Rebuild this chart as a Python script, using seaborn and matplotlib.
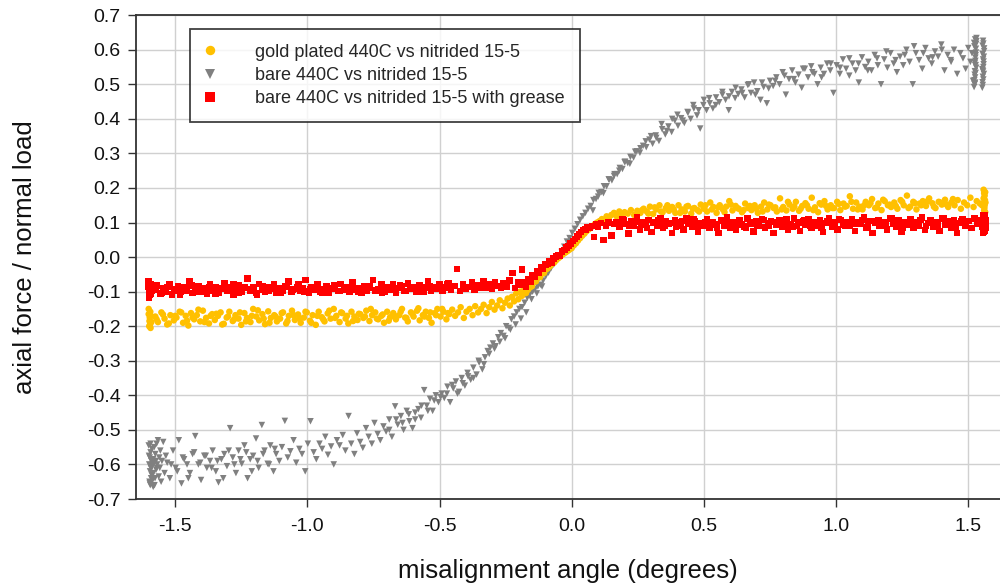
import numpy as np
import pandas as pd
import matplotlib
matplotlib.use("Agg")
import matplotlib.pyplot as plt
import seaborn as sns

# ---------------- data ----------------
LABEL_GOLD = "gold plated 440C vs nitrided 15-5"
LABEL_BARE = "bare 440C vs nitrided 15-5"
LABEL_GREASE = "bare 440C vs nitrided 15-5 with grease"

gold_x = [
    -1.600, -1.600, -1.598, -1.597, -1.596, -1.595, -1.594, -1.593, -1.592, -1.590,
    -1.575, -1.565, -1.552, -1.540, -1.530, -1.518, -1.505, -1.495, -1.483, -1.470,
    -1.460, -1.450, -1.440, -1.428, -1.418, -1.405, -1.395, -1.383, -1.372, -1.360,
    -1.350, -1.338, -1.328, -1.316, -1.305, -1.295, -1.282, -1.272, -1.260, -1.250,
    -1.238, -1.228, -1.215, -1.205, -1.193, -1.182, -1.170, -1.160, -1.148, -1.138,
    -1.125, -1.115, -1.103, -1.092, -1.080, -1.070, -1.058, -1.047, -1.035, -1.025,
    -1.013, -1.002, -0.990, -0.980, -0.968, -0.957, -0.945, -0.935, -0.923, -0.912,
    -0.900, -0.890, -0.878, -0.868, -0.855, -0.845, -0.833, -0.822, -0.810, -0.800,
    -0.788, -0.777, -0.765, -0.755, -0.743, -0.732, -0.720, -0.710, -0.698, -0.687,
    -0.675, -0.665, -0.652, -0.642, -0.630, -0.620, -0.608, -0.598, -0.585, -0.575,
    -0.563, -0.552, -0.540, -0.530, -0.518, -0.508, -0.496, -0.485, -0.474, -0.463,
    -0.452, -0.441, -0.430, -0.420, -0.408, -0.398, -0.386, -0.375, -0.365, -0.354,
    -0.343, -0.333, -0.322, -0.312, -0.302, -0.292, -0.282, -0.272, -0.262, -0.252,
    -0.242, -0.234, -0.226, -0.218, -0.210, -0.202, -0.195, -0.188, -0.180, -0.173,
    -0.166, -0.158, -0.150, -0.142, -0.135, -0.127, -0.120, -0.112, -0.105, -0.097,
    -0.090, -0.082, -0.075, -0.067, -0.060, -0.052, -0.045, -0.037, -0.030, -0.022,
    -0.015, -0.008, 0.000, 0.008, 0.016, 0.024, 0.032, 0.040, 0.048, 0.056,
    0.064, 0.072, 0.080, 0.088, 0.096, 0.105, 0.114, 0.123, 0.132, 0.141,
    0.150, 0.160, 0.170, 0.180, 0.190, 0.200, 0.212, 0.224, 0.236, 0.248,
    0.260, 0.272, 0.284, 0.296, 0.308, 0.320, 0.332, 0.344, 0.356, 0.368,
    0.380, 0.392, 0.404, 0.416, 0.428, 0.440, 0.452, 0.464, 0.476, 0.488,
    0.500, 0.512, 0.524, 0.536, 0.548, 0.560, 0.572, 0.584, 0.596, 0.608,
    0.620, 0.632, 0.644, 0.656, 0.668, 0.680, 0.692, 0.704, 0.716, 0.728,
    0.740, 0.752, 0.764, 0.776, 0.788, 0.800, 0.812, 0.824, 0.836, 0.848,
    0.860, 0.872, 0.884, 0.896, 0.908, 0.920, 0.932, 0.944, 0.956, 0.968,
    0.980, 0.992, 1.004, 1.016, 1.028, 1.040, 1.052, 1.064, 1.076, 1.088,
    1.100, 1.112, 1.124, 1.136, 1.148, 1.160, 1.172, 1.184, 1.196, 1.208,
    1.220, 1.232, 1.244, 1.256, 1.268, 1.280, 1.292, 1.304, 1.316, 1.328,
    1.340, 1.352, 1.364, 1.376, 1.388, 1.400, 1.412, 1.424, 1.436, 1.448,
    1.460, 1.472, 1.484, 1.496, 1.508, 1.520, 1.532, 1.544, 1.552, 1.558,
    1.558, 1.560, 1.560, 1.561, 1.562, 1.562, 1.563, 1.564, 1.564, 1.565,
    -1.570, -1.546, -1.524, -1.500, -1.477, -1.455, -1.434, -1.412, -1.389, -1.366,
    -1.344, -1.322, -1.300, -1.277, -1.255, -1.232, -1.210, -1.187, -1.165, -1.143,
    -1.120, -1.097, -1.075, -1.052, -1.030, -1.007, -0.985, -0.962, -0.940, -0.917,
    -0.895, -0.872, -0.850, -0.827, -0.805, -0.782, -0.760, -0.737, -0.715, -0.692,
    -0.670, -0.647, -0.625, -0.602, -0.580, -0.557, -0.535, -0.513, -0.490, -0.468,
    0.266, 0.290, 0.314, 0.338, 0.362, 0.386, 0.410, 0.434, 0.458, 0.482,
    0.506, 0.530, 0.554, 0.578, 0.602, 0.626, 0.650, 0.674, 0.698, 0.722,
    0.746, 0.770, 0.794, 0.818, 0.842, 0.866, 0.890, 0.914, 0.938, 0.962,
    0.986, 1.010, 1.034, 1.058, 1.082, 1.106, 1.130, 1.154, 1.178, 1.202,
    1.226, 1.250, 1.274, 1.298, 1.322, 1.346, 1.370, 1.394, 1.418, 1.442,
]
gold_y = [
    -0.150, -0.165, -0.200, -0.185, -0.175, -0.195, -0.158, -0.205, -0.170, -0.188,
    -0.172, -0.188, -0.160, -0.178, -0.195, -0.168, -0.183, -0.175, -0.158, -0.190,
    -0.170, -0.198, -0.162, -0.180, -0.168, -0.186, -0.155, -0.176, -0.192, -0.165,
    -0.182, -0.170, -0.160, -0.193, -0.175, -0.158, -0.185, -0.168, -0.178, -0.196,
    -0.162, -0.176, -0.188, -0.150, -0.172, -0.183, -0.165, -0.194, -0.157, -0.176,
    -0.168, -0.186, -0.178, -0.160, -0.192, -0.170, -0.155, -0.182, -0.166, -0.190,
    -0.175, -0.160, -0.184, -0.168, -0.196, -0.158, -0.174, -0.186, -0.163, -0.178,
    -0.150, -0.170, -0.188, -0.162, -0.178, -0.192, -0.158, -0.172, -0.182, -0.165,
    -0.176, -0.155, -0.185, -0.168, -0.160, -0.180, -0.170, -0.190, -0.158, -0.174,
    -0.162, -0.180, -0.168, -0.150, -0.175, -0.186, -0.160, -0.172, -0.155, -0.183,
    -0.168, -0.158, -0.176, -0.190, -0.162, -0.150, -0.172, -0.158, -0.180, -0.165,
    -0.152, -0.170, -0.160, -0.145, -0.176, -0.158, -0.150, -0.168, -0.142, -0.160,
    -0.150, -0.138, -0.162, -0.145, -0.130, -0.152, -0.140, -0.125, -0.148, -0.132,
    -0.120, -0.140, -0.115, -0.128, -0.105, -0.122, -0.100, -0.112, -0.095, -0.104,
    -0.095, -0.088, -0.084, -0.072, -0.070, -0.060, -0.058, -0.048, -0.046, -0.036,
    -0.032, -0.026, -0.020, -0.016, -0.010, -0.004, 0.000, 0.006, 0.010, 0.014,
    0.018, 0.022, 0.026, 0.034, 0.040, 0.048, 0.055, 0.062, 0.068, 0.075,
    0.080, 0.085, 0.090, 0.096, 0.100, 0.104, 0.110, 0.108, 0.118, 0.115,
    0.122, 0.128, 0.118, 0.132, 0.124, 0.130, 0.126, 0.136, 0.122, 0.134,
    0.128, 0.140, 0.132, 0.146, 0.125, 0.138, 0.150, 0.130, 0.142, 0.134,
    0.145, 0.128, 0.150, 0.138, 0.132, 0.148, 0.126, 0.142, 0.136, 0.152,
    0.140, 0.132, 0.158, 0.145, 0.128, 0.150, 0.138, 0.146, 0.162, 0.135,
    0.148, 0.140, 0.130, 0.155, 0.142, 0.136, 0.150, 0.128, 0.146, 0.158,
    0.138, 0.150, 0.142, 0.132, 0.170, 0.145, 0.135, 0.152, 0.140, 0.160,
    0.134, 0.148, 0.156, 0.140, 0.172, 0.144, 0.130, 0.152, 0.162, 0.138,
    0.150, 0.142, 0.160, 0.136, 0.155, 0.148, 0.176, 0.140, 0.158, 0.146,
    0.138, 0.160, 0.150, 0.168, 0.142, 0.155, 0.136, 0.162, 0.150, 0.145,
    0.158, 0.140, 0.165, 0.150, 0.178, 0.146, 0.160, 0.138, 0.155, 0.162,
    0.148, 0.170, 0.156, 0.142, 0.160, 0.152, 0.166, 0.145, 0.158, 0.150,
    0.165, 0.140, 0.158, 0.150, 0.172, 0.145, 0.162, 0.155, 0.150, 0.170,
    0.195, 0.135, 0.185, 0.142, 0.178, 0.150, 0.165, 0.130, 0.188, 0.158,
    -0.180, -0.166, -0.192, -0.170, -0.160, -0.184, -0.175, -0.152, -0.188, -0.170,
    -0.164, -0.195, -0.172, -0.180, -0.160, -0.186, -0.170, -0.154, -0.178, -0.190,
    -0.172, -0.162, -0.185, -0.168, -0.176, -0.158, -0.190, -0.170, -0.180, -0.155,
    -0.176, -0.160, -0.170, -0.185, -0.164, -0.172, -0.150, -0.178, -0.166, -0.184,
    -0.170, -0.158, -0.176, -0.165, -0.148, -0.172, -0.160, -0.168, -0.150, -0.162,
    0.136, 0.126, 0.144, 0.132, 0.150, 0.138, 0.128, 0.146, 0.140, 0.132,
    0.150, 0.138, 0.144, 0.130, 0.152, 0.142, 0.136, 0.148, 0.140, 0.132,
    0.152, 0.144, 0.138, 0.160, 0.146, 0.140, 0.150, 0.136, 0.156, 0.148,
    0.142, 0.154, 0.146, 0.160, 0.138, 0.150, 0.156, 0.144, 0.166, 0.152,
    0.148, 0.160, 0.142, 0.156, 0.150, 0.162, 0.146, 0.158, 0.152, 0.168,
]

grease_x = [
    -1.600, -1.600, -1.598, -1.597, -1.596, -1.595, -1.594, -1.593, -1.592, -1.590,
    -1.578, -1.568, -1.556, -1.545, -1.534, -1.522, -1.512, -1.500, -1.490, -1.478,
    -1.468, -1.456, -1.446, -1.434, -1.424, -1.412, -1.402, -1.390, -1.380, -1.368,
    -1.358, -1.346, -1.336, -1.324, -1.314, -1.302, -1.292, -1.280, -1.270, -1.258,
    -1.248, -1.236, -1.226, -1.214, -1.204, -1.192, -1.182, -1.170, -1.160, -1.148,
    -1.138, -1.126, -1.116, -1.104, -1.094, -1.082, -1.072, -1.060, -1.050, -1.038,
    -1.028, -1.016, -1.006, -0.994, -0.984, -0.972, -0.962, -0.950, -0.940, -0.928,
    -0.918, -0.906, -0.896, -0.884, -0.874, -0.862, -0.852, -0.840, -0.830, -0.818,
    -0.808, -0.796, -0.786, -0.774, -0.764, -0.752, -0.742, -0.730, -0.720, -0.708,
    -0.698, -0.686, -0.676, -0.664, -0.654, -0.642, -0.632, -0.620, -0.610, -0.598,
    -0.588, -0.576, -0.566, -0.554, -0.544, -0.532, -0.522, -0.510, -0.500, -0.488,
    -0.478, -0.466, -0.456, -0.444, -0.434, -0.422, -0.412, -0.400, -0.390, -0.378,
    -0.368, -0.356, -0.346, -0.334, -0.324, -0.312, -0.302, -0.290, -0.280, -0.268,
    -0.258, -0.246, -0.236, -0.224, -0.214, -0.204, -0.196, -0.188, -0.180, -0.172,
    -0.164, -0.156, -0.148, -0.140, -0.132, -0.124, -0.116, -0.108, -0.100, -0.092,
    -0.084, -0.076, -0.068, -0.060, -0.052, -0.044, -0.036, -0.028, -0.020, -0.012,
    -0.004, 0.004, 0.012, 0.020, 0.028, 0.036, 0.044, 0.052, 0.060, 0.068,
    0.076, 0.084, 0.092, 0.100, 0.110, 0.120, 0.130, 0.140, 0.150, 0.160,
    0.170, 0.181, 0.192, 0.203, 0.214, 0.225, 0.236, 0.247, 0.258, 0.269,
    0.280, 0.291, 0.302, 0.313, 0.324, 0.335, 0.346, 0.357, 0.368, 0.379,
    0.390, 0.401, 0.412, 0.423, 0.434, 0.445, 0.456, 0.467, 0.478, 0.489,
    0.500, 0.511, 0.522, 0.533, 0.544, 0.555, 0.566, 0.577, 0.588, 0.599,
    0.610, 0.621, 0.632, 0.643, 0.654, 0.665, 0.676, 0.687, 0.698, 0.709,
    0.720, 0.731, 0.742, 0.753, 0.764, 0.775, 0.786, 0.797, 0.808, 0.819,
    0.830, 0.841, 0.852, 0.863, 0.874, 0.885, 0.896, 0.907, 0.918, 0.929,
    0.940, 0.951, 0.962, 0.973, 0.984, 0.995, 1.006, 1.017, 1.028, 1.039,
    1.050, 1.061, 1.072, 1.083, 1.094, 1.105, 1.116, 1.127, 1.138, 1.149,
    1.160, 1.171, 1.182, 1.193, 1.204, 1.215, 1.226, 1.237, 1.248, 1.259,
    1.270, 1.281, 1.292, 1.303, 1.314, 1.325, 1.336, 1.347, 1.358, 1.369,
    1.380, 1.391, 1.402, 1.413, 1.424, 1.435, 1.446, 1.457, 1.468, 1.479,
    1.490, 1.501, 1.512, 1.523, 1.534, 1.545, 1.552, 1.558, 1.560, 1.562,
    1.556, 1.558, 1.560, 1.561, 1.562, 1.563, 1.564, 1.565, 1.566, 1.567,
    -1.573, -1.550, -1.528, -1.505, -1.482, -1.460, -1.438, -1.415, -1.393, -1.370,
    -1.348, -1.326, -1.303, -1.280, -1.258, -1.236, -1.213, -1.190, -1.168, -1.146,
    -1.123, -1.100, -1.078, -1.056, -1.033, -1.010, -0.988, -0.966, -0.943, -0.920,
    -0.898, -0.876, -0.853, -0.830, -0.808, -0.786, -0.763, -0.740, -0.718, -0.696,
    -0.673, -0.650, -0.628, -0.606, -0.583, -0.560, -0.538, -0.516, -0.493, -0.470,
    0.175, 0.197, 0.219, 0.241, 0.263, 0.285, 0.307, 0.329, 0.351, 0.373,
    0.395, 0.417, 0.439, 0.461, 0.483, 0.505, 0.527, 0.549, 0.571, 0.593,
    0.615, 0.637, 0.659, 0.681, 0.703, 0.725, 0.747, 0.769, 0.791, 0.813,
    0.835, 0.857, 0.879, 0.901, 0.923, 0.945, 0.967, 0.989, 1.011, 1.033,
    1.055, 1.077, 1.099, 1.121, 1.143, 1.165, 1.187, 1.209, 1.231, 1.253,
    1.275, 1.297, 1.319, 1.341, 1.363, 1.385, 1.407, 1.429, 1.451, 1.473,
]
grease_y = [
    -0.070, -0.085, -0.118, -0.100, -0.092, -0.110, -0.078, -0.105, -0.088, -0.096,
    -0.095, -0.082, -0.105, -0.090, -0.100, -0.078, -0.108, -0.092, -0.085, -0.100,
    -0.088, -0.098, -0.070, -0.104, -0.092, -0.084, -0.100, -0.090, -0.106, -0.080,
    -0.096, -0.086, -0.102, -0.092, -0.076, -0.098, -0.088, -0.108, -0.094, -0.082,
    -0.100, -0.090, -0.062, -0.096, -0.086, -0.104, -0.078, -0.094, -0.100, -0.088,
    -0.092, -0.080, -0.104, -0.090, -0.098, -0.084, -0.070, -0.100, -0.092, -0.086,
    -0.098, -0.090, -0.066, -0.102, -0.088, -0.094, -0.080, -0.100, -0.092, -0.084,
    -0.104, -0.092, -0.086, -0.098, -0.078, -0.095, -0.088, -0.100, -0.072, -0.094,
    -0.090, -0.102, -0.084, -0.096, -0.088, -0.066, -0.098, -0.092, -0.080, -0.100,
    -0.086, -0.094, -0.078, -0.102, -0.090, -0.084, -0.098, -0.076, -0.092, -0.088,
    -0.100, -0.082, -0.094, -0.088, -0.070, -0.098, -0.086, -0.092, -0.080, -0.096,
    -0.088, -0.076, -0.094, -0.084, -0.034, -0.098, -0.080, -0.092, -0.086, -0.074,
    -0.094, -0.082, -0.090, -0.070, -0.088, -0.078, -0.092, -0.074, -0.084, -0.090,
    -0.076, -0.086, -0.068, -0.046, -0.090, -0.072, -0.080, -0.036, -0.074, -0.085,
    -0.064, -0.070, -0.052, -0.058, -0.040, -0.046, -0.030, -0.034, -0.022, -0.020,
    -0.012, -0.016, -0.004, 0.002, 0.006, 0.004, 0.016, 0.020, 0.028, 0.032,
    0.040, 0.046, 0.052, 0.060, 0.066, 0.072, 0.078, 0.080, 0.086, 0.084,
    0.090, 0.058, 0.094, 0.088, 0.098, 0.050, 0.092, 0.100, 0.062, 0.096,
    0.102, 0.088, 0.110, 0.096, 0.068, 0.104, 0.092, 0.114, 0.080, 0.100,
    0.094, 0.108, 0.072, 0.100, 0.090, 0.112, 0.086, 0.104, 0.096, 0.070,
    0.106, 0.092, 0.100, 0.080, 0.112, 0.096, 0.088, 0.104, 0.074, 0.098,
    0.090, 0.110, 0.084, 0.102, 0.094, 0.070, 0.106, 0.092, 0.114, 0.086,
    0.100, 0.078, 0.108, 0.094, 0.088, 0.112, 0.096, 0.074, 0.104, 0.090,
    0.110, 0.086, 0.098, 0.104, 0.070, 0.094, 0.108, 0.088, 0.100, 0.080,
    0.096, 0.112, 0.090, 0.076, 0.104, 0.094, 0.110, 0.084, 0.100, 0.092,
    0.106, 0.072, 0.098, 0.112, 0.088, 0.100, 0.080, 0.108, 0.094, 0.102,
    0.090, 0.110, 0.076, 0.100, 0.096, 0.114, 0.086, 0.104, 0.070, 0.098,
    0.108, 0.092, 0.102, 0.080, 0.112, 0.096, 0.088, 0.106, 0.074, 0.100,
    0.094, 0.110, 0.084, 0.102, 0.090, 0.114, 0.078, 0.098, 0.106, 0.088,
    0.100, 0.076, 0.112, 0.094, 0.104, 0.086, 0.108, 0.070, 0.098, 0.110,
    0.092, 0.104, 0.084, 0.112, 0.096, 0.106, 0.088, 0.120, 0.074, 0.110,
    0.070, 0.116, 0.080, 0.100, 0.090, 0.122, 0.076, 0.108, 0.095, 0.085,
    -0.092, -0.104, -0.086, -0.096, -0.110, -0.090, -0.082, -0.100, -0.094, -0.086,
    -0.106, -0.090, -0.096, -0.080, -0.102, -0.088, -0.094, -0.108, -0.084, -0.098,
    -0.090, -0.104, -0.086, -0.094, -0.078, -0.100, -0.092, -0.088, -0.104, -0.090,
    -0.082, -0.098, -0.094, -0.086, -0.100, -0.090, -0.084, -0.096, -0.102, -0.088,
    -0.094, -0.082, -0.098, -0.090, -0.086, -0.100, -0.084, -0.092, -0.088, -0.080,
    0.098, 0.106, 0.090, 0.102, 0.094, 0.084, 0.100, 0.108, 0.092, 0.098,
    0.088, 0.104, 0.096, 0.110, 0.090, 0.100, 0.094, 0.086, 0.104, 0.098,
    0.092, 0.106, 0.084, 0.100, 0.094, 0.108, 0.090, 0.102, 0.096, 0.110,
    0.088, 0.100, 0.106, 0.092, 0.098, 0.086, 0.104, 0.094, 0.110, 0.090,
    0.100, 0.096, 0.108, 0.088, 0.104, 0.092, 0.100, 0.112, 0.094, 0.086,
    0.102, 0.096, 0.108, 0.090, 0.100, 0.094, 0.112, 0.098, 0.088, 0.104,
]

bare_x = [
    -1.600, -1.598, -1.597, -1.596, -1.595, -1.594, -1.593, -1.592, -1.591, -1.590,
    -1.588, -1.586, -1.585, -1.583, -1.582, -1.580, -1.578, -1.575, -1.572, -1.570,
    -1.568, -1.565, -1.562, -1.560, -1.558, -1.556, -1.553, -1.550, -1.545, -1.540,
    -1.530, -1.520, -1.508, -1.498, -1.486, -1.476, -1.466, -1.455, -1.444, -1.434,
    -1.424, -1.412, -1.402, -1.390, -1.380, -1.368, -1.358, -1.346, -1.336, -1.325,
    -1.314, -1.304, -1.292, -1.282, -1.270, -1.260, -1.248, -1.238, -1.226, -1.216,
    -1.205, -1.194, -1.184, -1.172, -1.162, -1.150, -1.140, -1.128, -1.118, -1.106,
    -1.096, -1.085, -1.074, -1.064, -1.052, -1.042, -1.030, -1.020, -1.008, -0.998,
    -0.988, -0.976, -0.966, -0.954, -0.944, -0.932, -0.922, -0.910, -0.900, -0.888,
    -0.878, -0.866, -0.856, -0.844, -0.834, -0.822, -0.812, -0.800, -0.790, -0.778,
    -0.768, -0.756, -0.746, -0.734, -0.724, -0.712, -0.702, -0.690, -0.680, -0.668,
    -0.658, -0.646, -0.636, -0.624, -0.614, -0.602, -0.592, -0.580, -0.570, -0.558,
    -0.548, -0.536, -0.526, -0.514, -0.504, -0.492, -0.482, -0.470, -0.460, -0.448,
    -0.438, -0.426, -0.416, -0.404, -0.394, -0.382, -0.372, -0.360, -0.350, -0.338,
    -0.328, -0.318, -0.308, -0.298, -0.288, -0.278, -0.268, -0.258, -0.248, -0.238,
    -0.228, -0.218, -0.208, -0.198, -0.188, -0.178, -0.168, -0.158, -0.148, -0.138,
    -0.128, -0.118, -0.108, -0.098, -0.088, -0.078, -0.068, -0.058, -0.048, -0.038,
    -0.028, -0.018, -0.008, 0.002, 0.012, 0.022, 0.032, 0.042, 0.052, 0.062,
    0.072, 0.082, 0.092, 0.102, 0.112, 0.122, 0.132, 0.142, 0.152, 0.162,
    0.172, 0.182, 0.192, 0.202, 0.212, 0.222, 0.234, 0.246, 0.258, 0.270,
    0.282, 0.294, 0.306, 0.318, 0.330, 0.342, 0.354, 0.366, 0.378, 0.390,
    0.402, 0.414, 0.426, 0.438, 0.450, 0.462, 0.474, 0.486, 0.498, 0.510,
    0.522, 0.534, 0.546, 0.558, 0.570, 0.582, 0.594, 0.606, 0.618, 0.630,
    0.642, 0.654, 0.666, 0.678, 0.690, 0.702, 0.714, 0.726, 0.738, 0.750,
    0.762, 0.774, 0.786, 0.798, 0.810, 0.822, 0.834, 0.846, 0.858, 0.870,
    0.882, 0.894, 0.906, 0.918, 0.930, 0.942, 0.954, 0.966, 0.978, 0.990,
    1.002, 1.014, 1.026, 1.038, 1.050, 1.062, 1.074, 1.086, 1.098, 1.110,
    1.122, 1.134, 1.146, 1.158, 1.170, 1.182, 1.194, 1.206, 1.218, 1.230,
    1.242, 1.254, 1.266, 1.278, 1.290, 1.302, 1.314, 1.326, 1.338, 1.350,
    1.362, 1.374, 1.386, 1.398, 1.410, 1.422, 1.434, 1.446, 1.458, 1.470,
    1.480, 1.490, 1.500, 1.508, 1.514, 1.518, 1.522, 1.524, 1.526, 1.528,
    1.522, 1.523, 1.524, 1.525, 1.526, 1.527, 1.528, 1.529, 1.530, 1.531,
    1.524, 1.526, 1.528, 1.530, 1.525, 1.527, 1.529, 1.523, 1.531, 1.526,
    1.553, 1.554, 1.555, 1.556, 1.557, 1.558, 1.559, 1.560, 1.554, 1.556,
    1.555, 1.557, 1.559, 1.553, 1.558, 1.556, 1.554, 1.560, 1.557, 1.555,
    -0.690, -0.664, -0.640, -0.616, -0.592, -0.568, -0.544, -0.520, -0.496, -0.472,
    -0.452, -0.432, -0.412, -0.392, -0.372, -0.352, -0.332, -0.312, -0.292, -0.272,
    -0.252, -0.232, -0.212, -0.192, -0.172, -0.152, -0.132, -0.112, 0.080, 0.100,
    0.120, 0.140, 0.160, 0.180, 0.200, 0.220, 0.240, 0.260, 0.280, 0.300,
    0.320, 0.340, 0.360, 0.380, 0.400, 0.420, 0.440, 0.460, 0.480, 0.500,
    0.520, 0.545, 0.570, 0.595, 0.620, 0.645, 0.670, 0.695, 0.720, 0.745,
    -1.599, -1.596, -1.593, -1.589, -1.586, -1.583, -1.579, -1.576, -1.573, -1.569,
    -1.535, -1.515, -1.492, -1.471, -1.450, -1.428, -1.405, -1.384, -1.362, -1.340,
    -1.318, -1.297, -1.276, -1.253, -1.231, -1.210, -1.188, -1.167, -1.145, -1.123,
    0.770, 0.805, 0.840, 0.875, 0.910, 0.945, 0.980, 1.015, 1.050, 1.085,
    1.120, 1.155, 1.190, 1.225, 1.260, 1.295, 1.330, 1.365, 1.400, 1.435,
]
bare_y = [
    -0.545, -0.600, -0.650, -0.580, -0.620, -0.660, -0.565, -0.610, -0.640, -0.590,
    -0.555, -0.605, -0.645, -0.585, -0.625, -0.595, -0.660, -0.570, -0.615, -0.540,
    -0.600, -0.530, -0.635, -0.580, -0.610, -0.560, -0.650, -0.590, -0.535, -0.625,
    -0.595, -0.640, -0.560, -0.610, -0.530, -0.655, -0.585, -0.600, -0.625, -0.570,
    -0.518, -0.600, -0.645, -0.575, -0.610, -0.590, -0.560, -0.620, -0.652, -0.585,
    -0.570, -0.605, -0.495, -0.580, -0.625, -0.560, -0.598, -0.545, -0.640, -0.585,
    -0.575, -0.525, -0.610, -0.486, -0.560, -0.598, -0.545, -0.620, -0.570, -0.590,
    -0.550, -0.474, -0.580, -0.562, -0.530, -0.595, -0.555, -0.570, -0.620, -0.540,
    -0.475, -0.565, -0.585, -0.540, -0.555, -0.520, -0.572, -0.548, -0.600, -0.530,
    -0.545, -0.515, -0.560, -0.460, -0.540, -0.570, -0.510, -0.535, -0.552, -0.495,
    -0.520, -0.540, -0.480, -0.512, -0.530, -0.490, -0.505, -0.470, -0.520, -0.432,
    -0.485, -0.460, -0.500, -0.445, -0.475, -0.495, -0.450, -0.440, -0.465, -0.385,
    -0.430, -0.410, -0.445, -0.400, -0.420, -0.395, -0.408, -0.375, -0.420, -0.380,
    -0.360, -0.390, -0.350, -0.372, -0.335, -0.355, -0.320, -0.340, -0.305, -0.325,
    -0.290, -0.272, -0.262, -0.250, -0.258, -0.232, -0.220, -0.228, -0.200, -0.205,
    -0.180, -0.172, -0.160, -0.150, -0.145, -0.132, -0.118, -0.108, -0.100, -0.092,
    -0.085, -0.080, -0.068, -0.055, -0.045, -0.032, -0.022, -0.012, 0.000, 0.015,
    0.030, 0.045, 0.055, 0.070, 0.082, 0.095, 0.108, 0.118, 0.128, 0.140,
    0.148, 0.165, 0.168, 0.186, 0.188, 0.205, 0.205, 0.224, 0.222, 0.240,
    0.240, 0.258, 0.255, 0.276, 0.272, 0.290, 0.288, 0.306, 0.302, 0.322,
    0.318, 0.340, 0.328, 0.352, 0.336, 0.370, 0.355, 0.378, 0.362, 0.395,
    0.380, 0.402, 0.388, 0.420, 0.400, 0.430, 0.410, 0.372, 0.440, 0.425,
    0.445, 0.430, 0.462, 0.448, 0.470, 0.455, 0.425, 0.478, 0.460, 0.472,
    0.485, 0.462, 0.498, 0.475, 0.505, 0.480, 0.455, 0.492, 0.445, 0.510,
    0.495, 0.520, 0.500, 0.535, 0.470, 0.515, 0.540, 0.505, 0.528, 0.490,
    0.545, 0.520, 0.552, 0.530, 0.500, 0.548, 0.530, 0.560, 0.540, 0.475,
    0.555, 0.530, 0.572, 0.545, 0.525, 0.560, 0.540, 0.505, 0.578, 0.550,
    0.565, 0.540, 0.585, 0.555, 0.500, 0.572, 0.548, 0.590, 0.560, 0.535,
    0.580, 0.555, 0.600, 0.565, 0.500, 0.590, 0.570, 0.545, 0.605, 0.575,
    0.560, 0.595, 0.580, 0.615, 0.540, 0.585, 0.570, 0.600, 0.530, 0.590,
    0.575, 0.545, 0.605, 0.565, 0.590, 0.510, 0.620, 0.500, 0.630, 0.555,
    0.492, 0.512, 0.528, 0.538, 0.556, 0.568, 0.584, 0.603, 0.617, 0.634,
    0.502, 0.520, 0.533, 0.548, 0.562, 0.577, 0.592, 0.610, 0.625, 0.505,
    0.490, 0.506, 0.522, 0.537, 0.550, 0.566, 0.580, 0.596, 0.612, 0.626,
    0.498, 0.514, 0.530, 0.544, 0.558, 0.572, 0.588, 0.604, 0.618, 0.540,
    -0.500, -0.470, -0.480, -0.455, -0.470, -0.430, -0.445, -0.415, -0.405, -0.395,
    -0.370, -0.395, -0.365, -0.345, -0.350, -0.300, -0.310, -0.280, -0.265, -0.245,
    -0.235, -0.210, -0.195, -0.178, -0.160, -0.122, -0.105, -0.085, 0.135, 0.175,
    0.185, 0.225, 0.235, 0.250, 0.275, 0.270, 0.305, 0.315, 0.335, 0.350,
    0.345, 0.385, 0.365, 0.400, 0.412, 0.395, 0.418, 0.440, 0.425, 0.455,
    0.460, 0.440, 0.478, 0.465, 0.490, 0.475, 0.500, 0.470, 0.505, 0.488,
    -0.575, -0.655, -0.540, -0.630, -0.600, -0.665, -0.550, -0.640, -0.590, -0.610,
    -0.575, -0.600, -0.620, -0.580, -0.640, -0.565, -0.595, -0.575, -0.610, -0.590,
    -0.640, -0.560, -0.600, -0.585, -0.565, -0.620, -0.590, -0.570, -0.600, -0.555,
    0.510, 0.525, 0.515, 0.545, 0.535, 0.520, 0.560, 0.548, 0.575, 0.560,
    0.540, 0.575, 0.595, 0.570, 0.585, 0.610, 0.590, 0.578, 0.600, 0.565,
]

x_ticks = [-1.5, -1.0, -0.5, 0.0, 0.5, 1.0, 1.5]
y_ticks = [-0.7, -0.6, -0.5, -0.4, -0.3, -0.2, -0.1, 0.0, 0.1, 0.2, 0.3, 0.4, 0.5, 0.6, 0.7]

# ---------------- build long-form table ----------------
n = min(len(bare_x), len(bare_y))
m = min(len(gold_x), len(gold_y))
k = min(len(grease_x), len(grease_y))
df = pd.concat([
    pd.DataFrame({"x": bare_x[:n], "y": bare_y[:n], "series": LABEL_BARE}),
    pd.DataFrame({"x": gold_x[:m], "y": gold_y[:m], "series": LABEL_GOLD}),
    pd.DataFrame({"x": grease_x[:k], "y": grease_y[:k], "series": LABEL_GREASE}),
], ignore_index=True)

order = [LABEL_GOLD, LABEL_BARE, LABEL_GREASE]
palette = {LABEL_GOLD: "#FFC000", LABEL_BARE: "#808080", LABEL_GREASE: "#FF0000"}
markers = {LABEL_GOLD: "o", LABEL_BARE: "v", LABEL_GREASE: "s"}

# ---------------- plot ----------------
sns.set_theme(style="white")
plt.rcParams["font.family"] = ["Liberation Sans", "DejaVu Sans"]

fig = plt.figure(figsize=(10, 5.85), dpi=100)
ax = fig.add_axes([0.136, 0.147, 0.864, 0.827])

sns.scatterplot(data=df, x="x", y="y", hue="series", style="series",
                hue_order=order, style_order=order, palette=palette,
                markers=markers, s=22, linewidth=0, ax=ax, legend=True)

ax.set_xlim(-1.648, 1.62)
ax.set_ylim(-0.7, 0.7)
ax.set_xticks(x_ticks)
ax.set_yticks(y_ticks)
ax.set_xticklabels([f"{v:.1f}" for v in x_ticks])
ax.set_yticklabels([f"{v:.1f}" for v in y_ticks])
ax.grid(True, color="#d0d0d0", linewidth=1.0)
ax.set_axisbelow(True)
ax.tick_params(axis="both", which="major", direction="out", length=6,
               width=1.0, color="#333333", labelsize=14,
               labelcolor="#111111", bottom=True, left=True)
ax.tick_params(axis="x", pad=8)
ax.tick_params(axis="y", pad=5)
for side in ["left", "bottom", "top"]:
    ax.spines[side].set_visible(True)
    ax.spines[side].set_color("#333333")
    ax.spines[side].set_linewidth(1.3)
ax.spines["right"].set_visible(False)

ax.set_xlabel("misalignment angle (degrees)", fontsize=18.5, labelpad=17, color="#111111")
ax.set_ylabel("axial force / normal load", fontsize=18.5, labelpad=36, color="#111111")

handles, labels = ax.get_legend_handles_labels()
leg = ax.legend(handles, labels, loc="upper left", bbox_to_anchor=(0.063, 0.971),
                borderaxespad=0, frameon=True, fancybox=False, fontsize=13,
                markerscale=1.45, handlelength=0.6, handletextpad=2.2,
                labelspacing=0.35, borderpad=0.8, edgecolor="#111111")
leg.get_frame().set_linewidth(1.3)

fig.savefig("out.png", dpi=100)
